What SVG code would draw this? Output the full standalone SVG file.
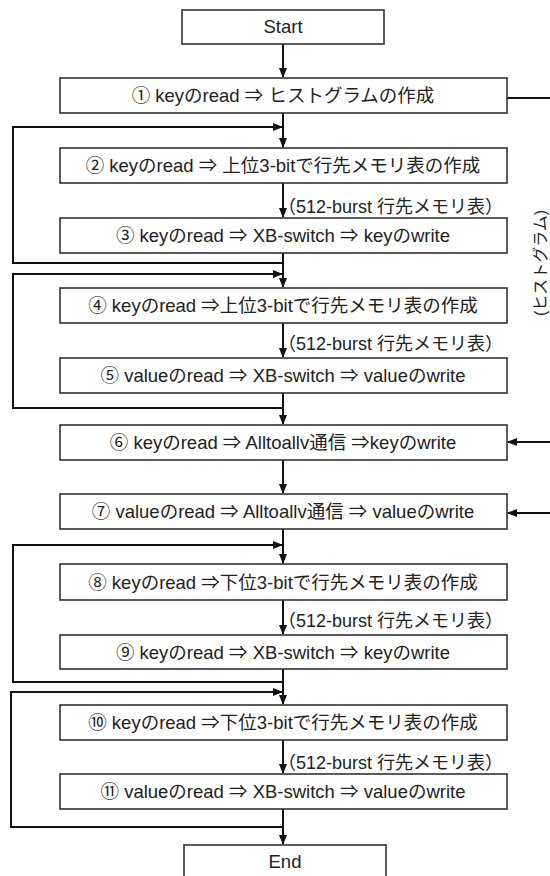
<svg xmlns="http://www.w3.org/2000/svg" width="550" height="876" viewBox="0 0 550 876">
<defs>
<marker id="ah" markerWidth="10" markerHeight="8" refX="9" refY="4" orient="auto" markerUnits="userSpaceOnUse">
<path d="M0,0 L10,4 L0,8 Z" fill="#111"/>
</marker>
<style>
.box{fill:#fff;stroke:#333;stroke-width:1.6}
.t{font-family:"Liberation Sans","Noto Sans CJK JP",sans-serif;font-size:18.5px;fill:#222;text-anchor:middle}
.lbl{font-family:"Liberation Sans","Noto Sans CJK JP",sans-serif;font-size:18px;fill:#222}
.c{fill:none;stroke:#111;stroke-width:2}
.a{fill:none;stroke:#111;stroke-width:2;marker-end:url(#ah)}
</style>
</defs>
<rect width="550" height="876" fill="#fff"/>
<g id="connectors">
<path class="a" d="M283,44 V77"/>
<path class="c" d="M507,98 H550"/>
<path class="a" d="M283,113 V147"/>
<path class="a" d="M283,263 H13 V127 H282"/>
<path class="a" d="M283,183 V217"/>
<path class="a" d="M283,253 V287"/>
<path class="a" d="M283,408 H13 V274 H282"/>
<path class="a" d="M283,323 V357"/>
<path class="a" d="M283,393 V424"/>
<path class="a" d="M550,442 H508"/>
<path class="a" d="M283,460 V493"/>
<path class="a" d="M550,513 H508"/>
<path class="a" d="M283,529 V563"/>
<path class="a" d="M283,682 H13 V545 H282"/>
<path class="a" d="M283,600 V634"/>
<path class="a" d="M283,669 V704"/>
<path class="a" d="M283,827 H11 V692 H282"/>
<path class="a" d="M283,740 V773"/>
<path class="a" d="M283,809 V844"/>
</g>
<g id="edge-labels">
<text class="lbl" x="278" y="213">（512-burst 行先メモリ表）</text>
<text class="lbl" x="278" y="350">（512-burst 行先メモリ表）</text>
<text class="lbl" x="278" y="627">（512-burst 行先メモリ表）</text>
<text class="lbl" x="278" y="769">（512-burst 行先メモリ表）</text>
<text class="lbl" transform="translate(546,263) rotate(-90)" text-anchor="middle" style="font-size:16px">(ヒストグラム)</text>
</g>
<g id="start"><rect class="box" x="182" y="10" width="202" height="34"/><text class="t" x="283" y="33">Start</text></g>
<g id="n1"><rect class="box" x="60" y="78" width="447" height="35"/><text class="t" x="283" y="102">① keyのread ⇒ ヒストグラムの作成</text></g>
<g id="n2"><rect class="box" x="60" y="148" width="447" height="35"/><text class="t" x="283" y="172">② keyのread ⇒ 上位3-bitで行先メモリ表の作成</text></g>
<g id="n3"><rect class="box" x="60" y="218" width="447" height="35"/><text class="t" x="283" y="242">③ keyのread ⇒ XB-switch ⇒ keyのwrite</text></g>
<g id="n4"><rect class="box" x="60" y="288" width="447" height="35"/><text class="t" x="283" y="312">④ keyのread ⇒上位3-bitで行先メモリ表の作成</text></g>
<g id="n5"><rect class="box" x="60" y="358" width="447" height="35"/><text class="t" x="283" y="382">⑤ valueのread ⇒ XB-switch ⇒ valueのwrite</text></g>
<g id="n6"><rect class="box" x="60" y="425" width="447" height="35"/><text class="t" x="283" y="449">⑥ keyのread ⇒ Alltoallv通信 ⇒keyのwrite</text></g>
<g id="n7"><rect class="box" x="60" y="494" width="447" height="35"/><text class="t" x="283" y="518">⑦ valueのread ⇒ Alltoallv通信 ⇒ valueのwrite</text></g>
<g id="n8"><rect class="box" x="60" y="564" width="447" height="36"/><text class="t" x="283" y="589">⑧ keyのread ⇒下位3-bitで行先メモリ表の作成</text></g>
<g id="n9"><rect class="box" x="60" y="635" width="447" height="34"/><text class="t" x="283" y="659">⑨ keyのread ⇒ XB-switch ⇒ keyのwrite</text></g>
<g id="n10"><rect class="box" x="60" y="705" width="447" height="35"/><text class="t" x="283" y="729">⑩ keyのread ⇒下位3-bitで行先メモリ表の作成</text></g>
<g id="n11"><rect class="box" x="60" y="774" width="447" height="35"/><text class="t" x="283" y="798">⑪ valueのread ⇒ XB-switch ⇒ valueのwrite</text></g>
<g id="end"><rect class="box" x="184" y="845" width="202" height="40"/><text class="t" x="285" y="868">End</text></g>
</svg>
